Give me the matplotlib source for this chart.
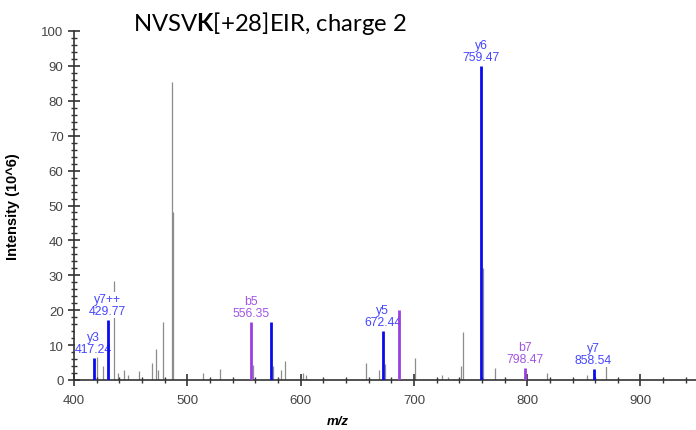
import matplotlib
matplotlib.use('Agg')
import matplotlib.pyplot as plt
import matplotlib.ticker as ticker

# fragment ions (y series, blue)
y_mz = [417.24, 429.77, 573.6, 672.44, 759.47, 858.54]
y_int = [6.3, 17.2, 16.6, 14.0, 90.0, 3.1]
y_labels = ['y3\n417.24', 'y7++\n429.77', '', 'y5\n672.44', 'y6\n759.47', 'y7\n858.54']

# fragment ions (b series, purple)
b_mz = [556.35, 686.6, 798.47]
b_int = [16.6, 20.0, 3.4]
b_labels = ['b5\n556.35', '', 'b7\n798.47']

# unassigned peaks (gray)
other_mz = [420.0, 425.3, 435.3, 438.8, 444.1, 447.7, 457.4, 468.6, 472.4, 474.0,
            478.3, 486.8, 487.2, 513.6, 528.9, 558.0, 575.4, 582.4, 586.0, 601.9,
            604.8, 657.7, 668.9, 674.5, 700.7, 724.5, 730.1, 741.5, 743.0, 760.9,
            771.3, 817.2, 852.5, 869.6]
other_int = [6.6, 4.0, 28.4, 2.0, 3.0, 1.5, 2.5, 5.0, 9.0, 3.0,
             16.7, 85.5, 48.0, 2.0, 3.2, 4.3, 4.0, 3.0, 5.4, 2.0,
             1.5, 5.0, 3.0, 4.6, 6.3, 1.5, 1.0, 4.0, 13.8, 32.0,
             3.5, 2.0, 1.5, 4.9]

blue_line = '#0a0aee'
blue_text = '#4646ff'
purple_line = '#9a3fe0'
purple_text = '#a255e6'

plt.rcParams['font.family'] = ['Liberation Sans', 'DejaVu Sans']
# bold K in the title via mathtext, using Lato
plt.rcParams['mathtext.fontset'] = 'custom'
plt.rcParams['mathtext.rm'] = 'Lato'
plt.rcParams['mathtext.bf'] = 'Lato:bold'

fig = plt.figure(figsize=(6.96, 4.31), dpi=100)
ax = fig.add_axes([74 / 696, 1 - 381 / 431, 1 - 74 / 696, 349 / 431])

ax.vlines(other_mz, 0, other_int, color='#8c8c8c', linewidth=0.9, zorder=1)
ax.vlines(y_mz, 0, y_int, color=blue_line, linewidth=2.0, zorder=3)
ax.vlines(b_mz, 0, b_int, color=purple_line, linewidth=2.0, zorder=3)

for mz, h, lab in zip(y_mz, y_int, y_labels):
    if lab:
        ax.annotate(lab, xy=(mz, h), xytext=(0, 2), textcoords='offset points',
                    ha='center', va='bottom', fontsize=8.8, color=blue_text,
                    linespacing=1.05, zorder=2, annotation_clip=False,
                    bbox=dict(fc='white', ec='none', pad=0.3))
for mz, h, lab in zip(b_mz, b_int, b_labels):
    if lab:
        ax.annotate(lab, xy=(mz, h), xytext=(0, 2), textcoords='offset points',
                    ha='center', va='bottom', fontsize=8.8, color=purple_text,
                    linespacing=1.05, zorder=2, annotation_clip=False,
                    bbox=dict(fc='white', ec='none', pad=0.3))

ax.set_xlim(400, 949)
ax.set_ylim(0, 100)

for s in ['top', 'right']:
    ax.spines[s].set_visible(False)
for s in ['left', 'bottom']:
    ax.spines[s].set_color('#333333')
    ax.spines[s].set_linewidth(1.2)

ax.xaxis.set_major_locator(ticker.MultipleLocator(100))
ax.xaxis.set_minor_locator(ticker.MultipleLocator(20))
ax.yaxis.set_major_locator(ticker.MultipleLocator(10))
ax.yaxis.set_minor_locator(ticker.MultipleLocator(2))
ax.tick_params(which='major', direction='inout', length=8, width=1.2, color='#333333',
               labelsize=9.5, labelcolor='#444444')
ax.tick_params(which='minor', direction='inout', length=5, width=1.0, color='#333333')
ax.tick_params(axis='x', pad=6)

ax.set_ylabel('Intensity (10^6)', fontsize=10.5, fontweight='bold')
ax.yaxis.set_label_coords(-54 / 622, 0.5)
ax.set_xlabel('m/z', fontsize=9.5, fontweight='bold', style='italic')
ax.xaxis.set_label_coords((338 - 74) / 622, -0.1)

fig.text(133 / 696, 1 - 31 / 431, r'NVSV$\mathbf{K}$[+28]EIR, charge 2',
         fontsize=17.2, family='Lato', ha='left', va='baseline')

fig.savefig('out.png', dpi=100)
